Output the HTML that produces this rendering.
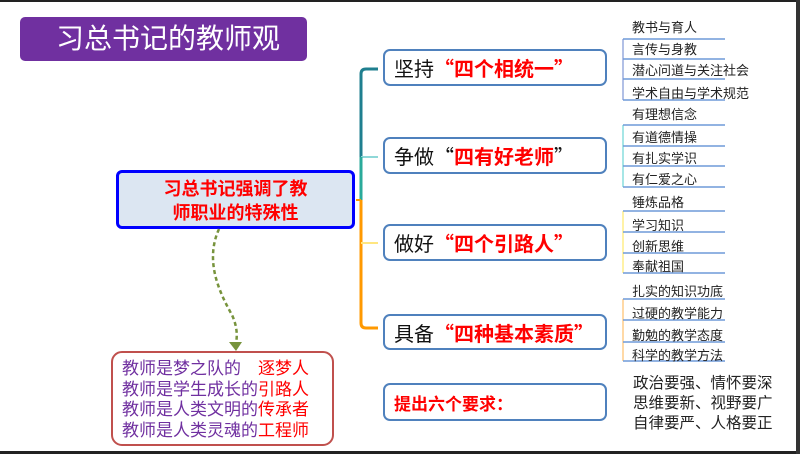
<!DOCTYPE html>
<html><head><meta charset="utf-8"><style>
*{margin:0;padding:0;box-sizing:border-box}
body{width:800px;height:454px;background:#fff;position:relative;overflow:hidden;font-family:"Liberation Sans","Noto Sans CJK SC",sans-serif}
.a{position:absolute;white-space:nowrap}
.box{position:absolute;border:2px solid #4f81bd;border-radius:7px;background:#fff;font-size:20px;color:#111;padding-left:9px;display:flex;align-items:center;font-family:"Noto Sans CJK SC",sans-serif}
.box b{color:#f00;font-weight:bold}
.lf{position:absolute;font-size:13px;color:#222;white-space:nowrap;left:632px}
</style></head><body>
<div class="a" style="left:0;top:0;width:800px;height:2px;background:#222"></div>
<div class="a" style="left:0;top:451px;width:800px;height:3px;background:#222"></div>
<div class="a" style="left:796px;top:0;width:4px;height:454px;background:#333"></div>

<div class="a" style="left:20px;top:17px;width:287px;height:44px;background:#7030a0;border-radius:5px;color:#fff;font-size:28px;line-height:44px;padding-left:36px">习总书记的教师观</div>

<div class="a" style="left:116px;top:170px;width:239px;height:59px;border:3px solid #0000ff;border-radius:6px;background:#dce6f2;color:#f00;font-weight:bold;font-size:18px;line-height:24px;text-align:center;padding-top:4px">习总书记强调了教<br>师职业的特殊性</div>

<svg class="a" style="left:0;top:0" width="800" height="454">
<path d="M378,69 H366 Q361,69 361,74 V200" stroke="#1f7f8f" stroke-width="3" fill="none"/>
<path d="M361,157 H378" stroke="#8fd8d8" stroke-width="2" fill="none"/>
<path d="M361,157 V200" stroke="#2aaa9a" stroke-width="3" fill="none"/>
<path d="M361,200 V323 Q361,328 366,328 H378" stroke="#ff9900" stroke-width="3" fill="none"/>
<path d="M361,243 H378" stroke="#ffe680" stroke-width="2" fill="none"/>
<path d="M356,200 H361" stroke="#ff9900" stroke-width="2"/>
<g stroke-width="1.5" fill="none">
<path d="M623,39 V100" stroke="#9ad" /><path d="M623,39 H725 M623,59 H725 M623,79 H725 M623,100 H725" stroke="#6f9ad8"/>
<path d="M623,125 V187" stroke="#8dd" /><path d="M623,125 H725 M623,146 H725 M623,166 H725 M623,187 H725" stroke="#6f9ad8"/>
<path d="M623,211 V273" stroke="#fe8" /><path d="M623,211 H725 M623,232 H725 M623,253 H725 M623,273 H725" stroke="#6f9ad8"/>
<path d="M623,299 V361" stroke="#fc8" /><path d="M623,299 H725 M623,320 H725 M623,342 H725 M623,361 H725" stroke="#6f9ad8"/>
</g>
<path d="M219,229 C205,260 218,290 232,315 C238,328 237,338 236,343" stroke="#77933c" stroke-width="2.5" stroke-dasharray="4,3" fill="none"/>
<path d="M229,342 L236,351 L242,342 Z" fill="#77933c"/>
</svg>

<div class="box" style="left:383px;top:49px;width:224px;height:37px">坚持<b>“四个相统一”</b></div>
<div class="box" style="left:383px;top:137px;width:224px;height:37px">争做“<b>四有好老师</b>”</div>
<div class="box" style="left:383px;top:224px;width:224px;height:37px">做好<b>“四个引路人”</b></div>
<div class="box" style="left:383px;top:314px;width:224px;height:36px">具备<b>“四种基本素质”</b></div>
<div class="box" style="left:383px;top:383px;width:224px;height:38px"><b style="font-size:17px">提出六个要求：</b></div>

<div class="lf" style="top:17px">教书与育人</div>
<div class="lf" style="top:39px">言传与身教</div>
<div class="lf" style="top:60px">潜心问道与关注社会</div>
<div class="lf" style="top:83px">学术自由与学术规范</div>
<div class="lf" style="top:104px">有理想信念</div>
<div class="lf" style="top:127px">有道德情操</div>
<div class="lf" style="top:148px">有扎实学识</div>
<div class="lf" style="top:169px">有仁爱之心</div>
<div class="lf" style="top:192px">锤炼品格</div>
<div class="lf" style="top:215px">学习知识</div>
<div class="lf" style="top:236px">创新思维</div>
<div class="lf" style="top:256px">奉献祖国</div>
<div class="lf" style="top:281px">扎实的知识功底</div>
<div class="lf" style="top:303px">过硬的教学能力</div>
<div class="lf" style="top:325px">勤勉的教学态度</div>
<div class="lf" style="top:345px">科学的教学方法</div>

<div class="a" style="left:633px;top:374px;font-size:15.5px;line-height:20px;color:#222">政治要强、情怀要深<br>思维要新、视野要广<br>自律要严、人格要正</div>

<div class="a" style="left:111px;top:351px;width:223px;height:95px;border:2px solid #c0504d;border-radius:11px;background:#fff;font-size:17px;line-height:20.5px;color:#7030a0;padding:6px 0 0 9px">教师是梦之队的　<span style="color:#f00">逐梦人</span><br>教师是学生成长的<span style="color:#f00">引路人</span><br>教师是人类文明的<span style="color:#f00">传承者</span><br>教师是人类灵魂的<span style="color:#f00">工程师</span></div>
</body></html>
